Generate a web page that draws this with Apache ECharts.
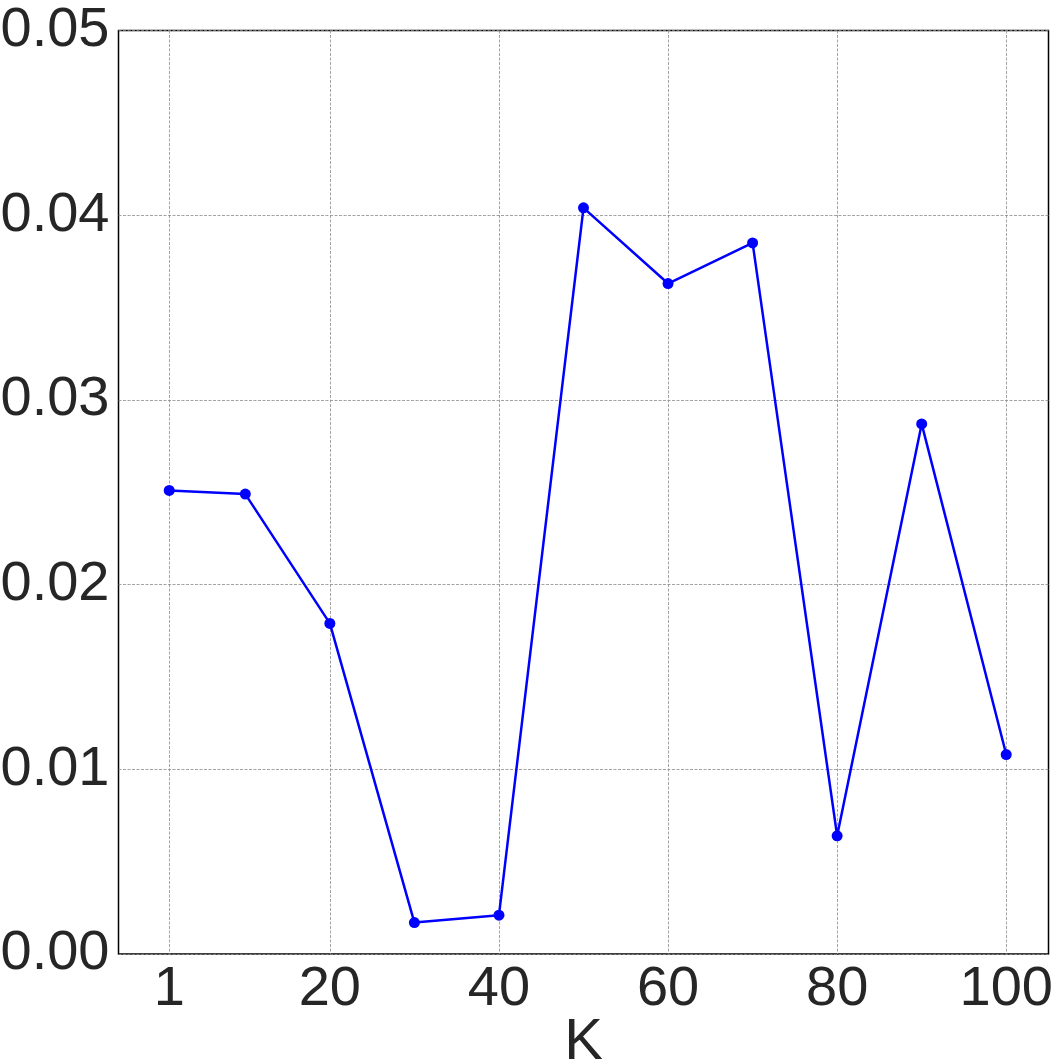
<!DOCTYPE html>
<html><head><meta charset="utf-8">
<script src="https://cdn.jsdelivr.net/npm/echarts@6/dist/echarts.min.js"></script>
<style>html,body{margin:0;padding:0;background:#fff}#c{width:1061px;height:1061px}</style>
</head><body><div id="c"></div>
<script>
const kValues = [1, 10, 20, 30, 40, 50, 60, 70, 80, 90, 100];
const scores = [0.0251, 0.0249, 0.0179, 0.0017, 0.0021, 0.0404, 0.0363, 0.0385, 0.0064, 0.0287, 0.0108];
const xTicks = [1, 20, 40, 60, 80, 100];
const yTicks = [0, 0.01, 0.02, 0.03, 0.04, 0.05];

const chart = echarts.init(document.getElementById('c'), null, {renderer: 'canvas'});
const font = 'Liberation Sans, Arial, sans-serif';
chart.setOption({
  animation: false,
  backgroundColor: '#fff',
  grid: {left: 118.5, right: 12.5, top: 30.5, bottom: 107, show: true, borderColor: '#000', borderWidth: 1.5,
    backgroundColor: 'transparent', containLabel: false, outerBoundsMode: 'none'},
  xAxis: {
    type: 'value', min: -5, max: 105,
    name: 'K', nameLocation: 'middle', nameGap: 60, nameMoveOverlap: false,
    nameTextStyle: {fontFamily: font, fontSize: 58, color: '#262626'},
    axisLine: {show: false},
    axisTick: {show: false, customValues: xTicks},
    axisLabel: {customValues: xTicks, fontFamily: font, fontSize: 56, color: '#262626', margin: 8},
    splitLine: {show: true, lineStyle: {color: '#8c8c8c', type: [3, 1.5], width: 0.8}}
  },
  yAxis: {
    type: 'value', min: 0, max: 0.05, interval: 0.01,
    axisLine: {show: false},
    axisTick: {show: false},
    axisLabel: {fontFamily: font, fontSize: 56, color: '#262626', margin: 9,
      formatter: v => v.toFixed(2)},
    splitLine: {show: true, lineStyle: {color: '#8c8c8c', type: [3, 1.5], width: 0.8}}
  },
  series: [{
    type: 'line',
    data: kValues.map((k, i) => [k, scores[i]]),
    symbol: 'circle', symbolSize: 11,
    lineStyle: {color: '#0000ff', width: 2.5},
    itemStyle: {color: '#0000ff'}
  }]
});
</script></body></html>
